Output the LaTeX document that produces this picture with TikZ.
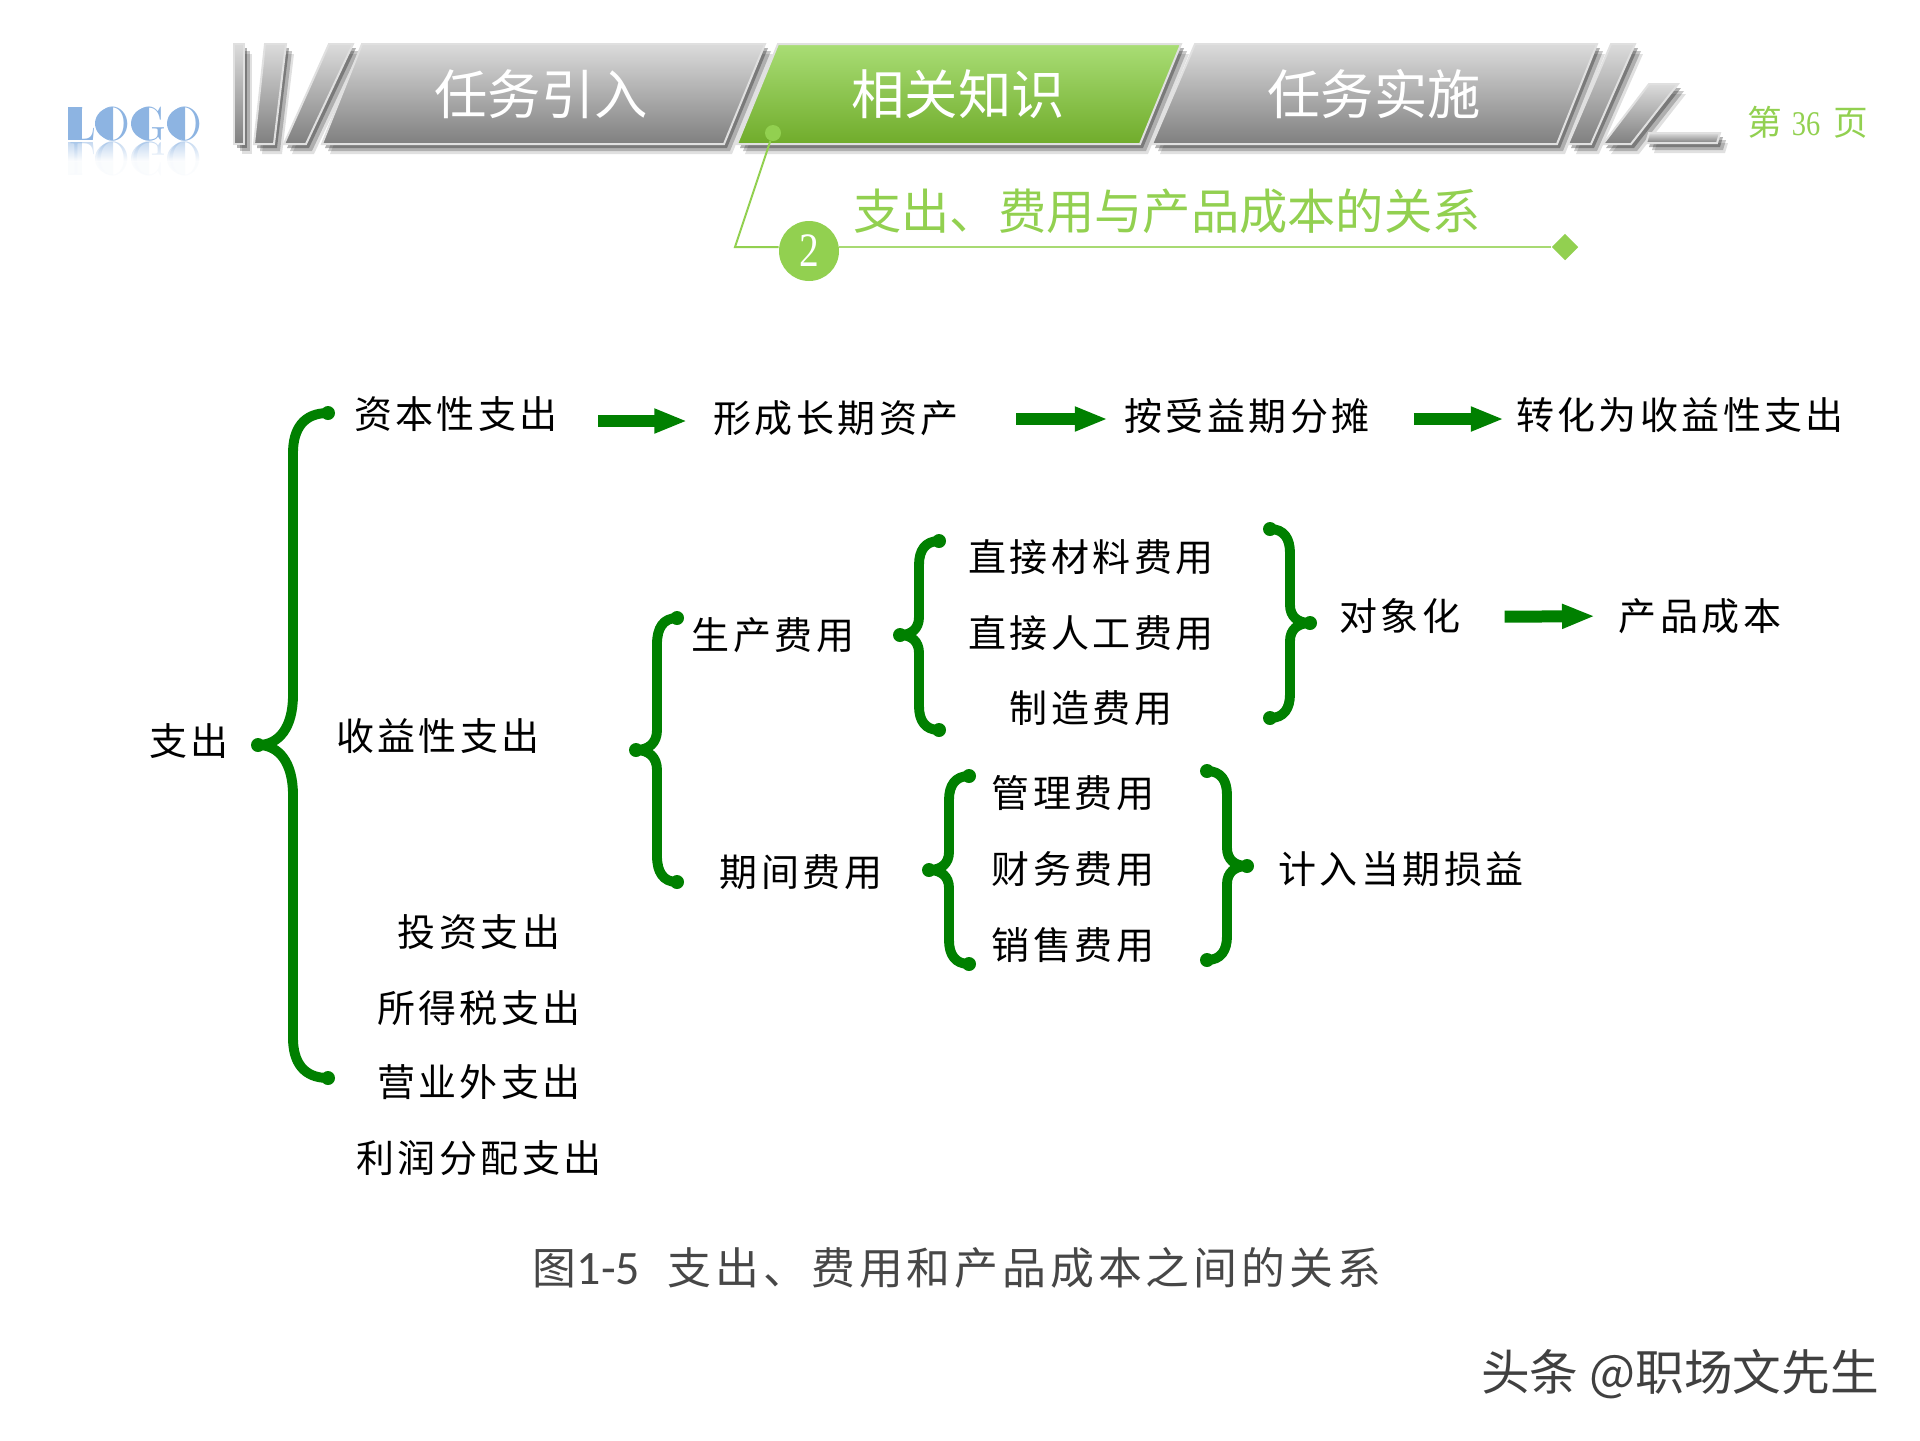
\documentclass[tikz,border=0pt]{standalone}
\usepackage{fontspec}
\usetikzlibrary{arrows.meta,fadings,shapes.geometric}
\newfontfamily\cjk[LetterSpace=9]{Noto Sans CJK SC}
\newfontfamily\cjktight{Noto Sans CJK SC}
\newfontfamily\numfont[FakeStretch=0.82]{Liberation Serif}
\newfontfamily\capfont{Carlito}
\definecolor{Leaf}{HTML}{92D050}
\definecolor{LeafTop}{HTML}{A9DD75}
\definecolor{LeafBot}{HTML}{70AC2B}
\definecolor{Brace}{HTML}{008000}
\definecolor{Logo}{HTML}{8DB4E2}
\tikzset{
  lbl/.style={inner sep=0pt,text=black,font=\cjk\fontsize{28.5}{31}\selectfont},
  tablbl/.style={inner sep=0pt,text=white,font=\cjktight\fontsize{40}{42}\selectfont},
  logolbl/.style={inner sep=0pt,text=Logo,font=\rmfamily\fontsize{36}{36}\selectfont},
  graybar/.style={draw=black!12,line width=1.5pt,top color=black!14,middle color=black!27,bottom color=black!50},
  greenbar/.style={draw=black!12,line width=1.5pt,top color=LeafTop,middle color=LeafTop!70!LeafBot,bottom color=LeafBot},
  fatarrow/.style={draw=Brace,line width=9pt,-{Triangle[length=24.75pt,width=17pt]}},
  bracepath/.style={draw=Brace,line width=7.4pt,line cap=round,line join=round},
}
\begin{document}
\begin{tikzpicture}[x=0.75pt,y=-0.75pt]
\useasboundingbox (0,0) rectangle (1920,1440);
% logo
\foreach \n/\x/\s in {la/82/L,lb/113/O,lc/149/G,ld/185/O} {\node[logolbl] (\n) at (\x,124) {\s};}
\foreach \x in {113,149,185} {\fill[Logo] (\x,140) arc (90:270:18 and 16.5) -- cycle;}
\fill[Logo] (68,107) rectangle (82,140);
\begin{scope}[opacity=0.5]
\foreach \n/\x/\s in {ma/82/L,mb/113/O,mc/149/G,md/185/O} {\node[logolbl,yscale=-1,transform shape] (\n) at (\x,158.5) {\s};}
\foreach \x in {113,149,185} {\fill[Logo] (\x,175) arc (90:270:18 and 16.5) -- cycle;}
\fill[Logo] (68,142) rectangle (82,175);
\end{scope}
\fill[white,path fading=north] (60,142) rectangle (210,162);
\fill[white,opacity=0.93] (60,162) rectangle (210,200);
% header bars
\foreach \dx/\dy/\o in {3/4/.30,6/7/.22,8/10/.12} {
  \foreach \a/\b/\c/\d/\e/\f/\g/\h in {234/44/244/44/244/144/234/144,265/44/286/44/274/144/254/144,329/44/353/44/306/144/284/144,362/44/765/44/724/144/322/144,778/44/1181/44/1140/144/737/144,1195/44/1597/44/1557/144/1152/144,1611/44/1635/44/1591/144/1568/144,1649/84/1678/84/1631/144/1603/144,1649/133/1720/133/1717/143/1646/143}
    {\fill[black,opacity=\o] (\a+\dx,\b+\dy) -- (\c+\dx,\d+\dy) -- (\e+\dx,\f+\dy) -- (\g+\dx,\h+\dy) -- cycle;}
}
\foreach \a/\b/\c/\d/\e/\f/\g/\h in {234/44/244/44/244/144/234/144,265/44/286/44/274/144/254/144,329/44/353/44/306/144/284/144,362/44/765/44/724/144/322/144,1195/44/1597/44/1557/144/1152/144,1611/44/1635/44/1591/144/1568/144,1649/84/1678/84/1631/144/1603/144,1649/133/1720/133/1717/143/1646/143}
  {\path[graybar] (\a,\b) -- (\c,\d) -- (\e,\f) -- (\g,\h) -- cycle;}
\path[greenbar] (778,44) -- (1181,44) -- (1140,144) -- (737,144) -- cycle;
\node[tablbl] (intro) at (541,94) {任务引入};
\node[tablbl] (know) at (958,94) {相关知识};
\node[tablbl] (task) at (1374,94) {任务实施};
\node[inner sep=0pt,text=Leaf,font=\cjktight\fontsize{26}{28}\selectfont] (page) at (1808,122) {第\hspace{7pt}{\numfont 36}\hspace{10pt}页};
% section title
\node[draw=none,fill=Leaf,circle,minimum size=45pt,inner sep=0pt,text=white,font=\numfont\fontsize{36}{36}\selectfont] (num) at (809,251) {2};
\node[fill=Leaf,ellipse,minimum width=12pt,minimum height=12pt,inner sep=0pt] (dot) at (773,133) {};
\node[fill=Leaf,diamond,minimum width=20pt,minimum height=20pt,inner sep=0pt] (tip) at (1565,247) {};
\coordinate (bend) at (735,247);
\draw[Leaf,line width=1.5pt] (dot) -- (bend) -- (bend -| num.west);
\draw[Leaf!80!white,line width=1.5pt] (num.east |- bend) -- (tip);
\node[inner sep=0pt,text=Leaf,font=\cjktight\fontsize{36.2}{39}\selectfont] (title) at (1167,211) {支出、费用与产品成本的关系};
% braces
\foreach \sx/\top/\tp/\bot/\ex/\tx/\c/\t in {293/413/745/1078/328/258/40/50,657/618/750/882/677/636/26/20,919/541/635/730/939/900/24/18,1290/529/623/718/1270/1310/24/18,949/776/870/964/969/929/24/18,1227/771/866/960/1207/1247/24/18} {
  \draw[bracepath] (\ex,\top) .. controls (\sx+0.3*\ex-0.3*\sx,\top) and (\sx,\top+0.4*\c) .. (\sx,\top+\c) -- (\sx,\tp-\t) .. controls (\sx,\tp-0.35*\t) and (\sx+0.4*\tx-0.4*\sx,\tp) .. (\tx,\tp) .. controls (\sx+0.4*\tx-0.4*\sx,\tp) and (\sx,\tp+0.35*\t) .. (\sx,\tp+\t) -- (\sx,\bot-\c) .. controls (\sx,\bot-0.4*\c) and (\sx+0.3*\ex-0.3*\sx,\bot) .. (\ex,\bot);
  \fill[Brace] (\ex,\top) circle (7) (\ex,\bot) circle (7) (\tx,\tp) circle (7);
}
% labels
\foreach \n/\x/\y/\s in {outlay/189/741/支出,capital/456/414/资本性支出,asset/836/418/形成长期资产,share/1247/416/按受益期分摊,income/1680/415/转化为收益性支出,revenue/438/736/收益性支出,prod/773/635/生产费用,period/801/872/期间费用,invest/479/932/投资支出,tax/479/1008/所得税支出,nonop/479/1082/营业外支出,profit/479/1158/利润分配支出,mat/1091/557/直接材料费用,labor/1091/633/直接人工费用,manu/1091/708/制造费用,object/1400/616/对象化,cost/1700/616/产品成本,admin/1073/793/管理费用,fin/1073/869/财务费用,sale/1073/945/销售费用,loss/1401/869/计入当期损益} {
  \node[lbl] (\n) at (\x,\y) {\s};
}
% arrows
\draw[fatarrow,shorten <=30pt,shorten >=19.4pt] ([yshift=-5.25pt]capital.east) -- ([yshift=-2.25pt]asset.west);
\draw[fatarrow,shorten <=43.25pt,shorten >=12.25pt] ([yshift=-0.75pt]asset.east) -- ([yshift=-2.25pt]share.west);
\draw[fatarrow,shorten <=33pt,shorten >=8.9pt] ([yshift=-2.25pt]share.east) -- ([yshift=-3pt]income.west);
\draw[fatarrow,shorten <=33pt,shorten >=17.7pt] ([yshift=-0.75pt]object.east) -- (cost.west);
% caption and mark
\node[inner sep=0pt,text=black!72,font=\cjk\fontsize{32.9}{36}\selectfont] (fig) at (957,1268) {图{\capfont\fontsize{36}{36}\selectfont 1-5}\ \ 支出、费用和产品成本之间的关系};
\node[inner sep=0pt,text=black!75,font=\cjktight\fontsize{36.5}{39}\selectfont] (mark) at (1680,1374) {头条 @职场文先生};
\end{tikzpicture}
\end{document}
